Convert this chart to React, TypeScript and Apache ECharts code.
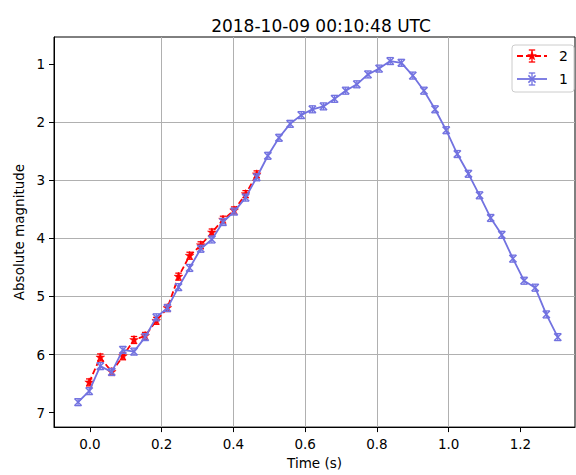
import React, { useEffect, useRef } from "react";
import * as echarts from "echarts";

// Time (s) of each observation
const times1 = [
  -0.033, -0.002, 0.029, 0.061, 0.092, 0.123, 0.154, 0.185, 0.216, 0.247,
  0.278, 0.309, 0.34, 0.371, 0.402, 0.434, 0.465, 0.496, 0.527, 0.558,
  0.589, 0.62, 0.651, 0.682, 0.713, 0.744, 0.775, 0.806, 0.837, 0.868,
  0.9, 0.931, 0.962, 0.993, 1.024, 1.055, 1.086, 1.117, 1.148, 1.179,
  1.21, 1.241, 1.272, 1.304,
];
// Station 1 absolute magnitudes
const mag1 = [
  6.82, 6.63, 6.2, 6.3, 5.92, 5.95, 5.7, 5.36, 5.2, 4.84,
  4.51, 4.18, 4.02, 3.72, 3.54, 3.3, 2.95, 2.58, 2.27, 2.03,
  1.88, 1.78, 1.73, 1.6, 1.46, 1.35, 1.18, 1.08, 0.95, 0.98,
  1.2, 1.46, 1.78, 2.14, 2.55, 2.89, 3.26, 3.65, 3.94, 4.35,
  4.73, 4.85, 5.31, 5.7,
];
const err1 = [
  0.06, 0.06, 0.06, 0.06, 0.06, 0.06, 0.06, 0.06, 0.06, 0.06,
  0.06, 0.06, 0.06, 0.06, 0.06, 0.06, 0.06, 0.06, 0.06, 0.06,
  0.06, 0.06, 0.06, 0.06, 0.06, 0.06, 0.06, 0.06, 0.06, 0.06,
  0.06, 0.06, 0.06, 0.06, 0.06, 0.06, 0.06, 0.06, 0.06, 0.06,
  0.06, 0.06, 0.06, 0.06,
];
// Station 2
const times2 = [
  -0.002, 0.029, 0.061, 0.092, 0.123, 0.154, 0.185, 0.216, 0.247, 0.278,
  0.309, 0.34, 0.371, 0.402, 0.434, 0.465,
];
const mag2 = [
  6.48, 6.05, 6.3, 6.03, 5.75, 5.68, 5.42, 5.2, 4.66, 4.3,
  4.12, 3.9, 3.68, 3.52, 3.24, 2.9,
];
const err2 = [
  0.06, 0.06, 0.06, 0.06, 0.06, 0.06, 0.06, 0.06, 0.06, 0.06,
  0.06, 0.06, 0.06, 0.06, 0.06, 0.06,
];

const xTicks = [0, 0.2, 0.4, 0.6, 0.8, 1.0, 1.2];
const yTicks = [1, 2, 3, 4, 5, 6, 7];

const TITLE = "2018-10-09 00:10:48 UTC";
const X_NAME = "Time (s)";
const Y_NAME = "Absolute magnitude";
const LABEL_1 = "1";
const LABEL_2 = "2";

const BLUE = "#7272e0";
const RED = "#ff0000";
const FONT = "DejaVu Sans";

function markerShapes(cx: number, cy: number, color: string, kind: string) {
  const out: any[] = [];
  if (kind === "x") {
    const r = 3.6;
    out.push({
      type: "line",
      shape: { x1: cx - r, y1: cy - r, x2: cx + r, y2: cy + r },
      style: { stroke: color, lineWidth: 1.5 },
    });
    out.push({
      type: "line",
      shape: { x1: cx - r, y1: cy + r, x2: cx + r, y2: cy - r },
      style: { stroke: color, lineWidth: 1.5 },
    });
  } else {
    const pts: number[][] = [];
    const R = 4.6;
    const r = 1.9;
    for (let k = 0; k < 10; k++) {
      const a = -Math.PI / 2 + (k * Math.PI) / 5;
      const rr = k % 2 === 0 ? R : r;
      pts.push([cx + rr * Math.cos(a), cy + rr * Math.sin(a)]);
    }
    out.push({
      type: "polygon",
      shape: { points: pts },
      style: { fill: color, stroke: color, lineWidth: 0.5 },
    });
  }
  return out;
}

function errGlyph(cx: number, yTop: number, yBot: number, cy: number, color: string, kind: string) {
  const cap = 3.2;
  const children: any[] = [
    { type: "line", shape: { x1: cx, y1: yTop, x2: cx, y2: yBot }, style: { stroke: color, lineWidth: 1.3 } },
    { type: "line", shape: { x1: cx - cap, y1: yTop, x2: cx + cap, y2: yTop }, style: { stroke: color, lineWidth: 1.3 } },
    { type: "line", shape: { x1: cx - cap, y1: yBot, x2: cx + cap, y2: yBot }, style: { stroke: color, lineWidth: 1.3 } },
  ];
  return children.concat(markerShapes(cx, cy, color, kind));
}

function makeRender(color: string, kind: string) {
  return (_params: any, api: any) => {
    const x = api.value(0);
    const y = api.value(1);
    const e = api.value(2);
    const c = api.coord([x, y]);
    const t = api.coord([x, y - e]);
    const b = api.coord([x, y + e]);
    return {
      type: "group",
      children: errGlyph(c[0], t[1], b[1], c[1], color, kind),
    };
  };
}

export default function App() {
  const ref = useRef<HTMLDivElement>(null);

  useEffect(() => {
    if (!ref.current) return;
    const chart = echarts.init(ref.current, undefined, { renderer: "svg" });

    const d1 = times1.map((t, i) => [t, mag1[i], err1[i]]);
    const d2 = times2.map((t, i) => [t, mag2[i], err2[i]]);

    const legendX = 512;
    const legendY = 45;

    const legendGraphics: any[] = [
      {
        type: "rect",
        shape: { x: legendX, y: legendY, width: 62, height: 47, r: 3 },
        style: { fill: "rgba(255,255,255,0.8)", stroke: "#cccccc", lineWidth: 1 },
        z: 100,
      },
      {
        type: "line",
        shape: { x1: 517, y1: 56, x2: 547, y2: 56 },
        style: { stroke: RED, lineWidth: 1.8, lineDash: [6, 3] },
        z: 101,
      },
      {
        type: "group",
        z: 101,
        children: errGlyph(532, 50, 62, 56, RED, "star").map((c) => ({ ...c, z: 101 })),
      },
      {
        type: "text",
        x: 559,
        y: 56,
        style: { text: LABEL_2, fontFamily: FONT, fontSize: 14, fill: "#000", verticalAlign: "middle" },
        z: 101,
      },
      {
        type: "line",
        shape: { x1: 517, y1: 79, x2: 547, y2: 79 },
        style: { stroke: BLUE, lineWidth: 1.8 },
        z: 101,
      },
      {
        type: "group",
        z: 101,
        children: errGlyph(532, 73, 85, 79, BLUE, "x").map((c) => ({ ...c, z: 101 })),
      },
      {
        type: "text",
        x: 559,
        y: 79,
        style: { text: LABEL_1, fontFamily: FONT, fontSize: 14, fill: "#000", verticalAlign: "middle" },
        z: 101,
      },
    ];

    chart.setOption({
      animation: false,
      backgroundColor: "#ffffff",
      title: {
        text: TITLE,
        left: 316,
        top: 12,
        textAlign: "center",
        textStyle: { fontFamily: FONT, fontSize: 17, fontWeight: "normal", color: "#000" },
      },
      grid: {
        left: 54,
        right: 1,
        top: 37,
        bottom: 42,
        show: true,
        borderColor: "#000",
        borderWidth: 1,
        backgroundColor: "transparent",
      },
      xAxis: {
        type: "value",
        min: -0.1,
        max: 1.352,
        splitNumber: 7,
        name: X_NAME,
        nameLocation: "middle",
        nameGap: 26,
        nameTextStyle: { fontFamily: FONT, fontSize: 13.5, color: "#000" },
        axisLine: { show: true, onZero: false, lineStyle: { color: "#000", width: 1 } },
        axisTick: { show: true, customValues: xTicks, length: 5, lineStyle: { color: "#000", width: 1 } },
        axisLabel: {
          customValues: xTicks,
          margin: 10,
          fontFamily: FONT,
          fontSize: 13.5,
          color: "#000",
          formatter: (v: number) => v.toFixed(1),
        },
        splitLine: {
          show: true,
          showMinLine: false,
          showMaxLine: false,
          lineStyle: { color: "#b0b0b0", width: 1 },
        },
      },
      yAxis: {
        type: "value",
        inverse: true,
        min: 0.536,
        max: 7.249,
        splitNumber: 6,
        name: Y_NAME,
        nameLocation: "middle",
        nameGap: 28,
        nameRotate: 90,
        nameTextStyle: { fontFamily: FONT, fontSize: 13.5, color: "#000" },
        axisLine: { show: true, onZero: false, lineStyle: { color: "#000", width: 1 } },
        axisTick: { show: true, customValues: yTicks, length: 5, lineStyle: { color: "#000", width: 1 } },
        axisLabel: {
          customValues: yTicks,
          margin: 9,
          fontFamily: FONT,
          fontSize: 13.5,
          color: "#000",
          formatter: (v: number) => String(Math.round(v)),
        },
        splitLine: {
          show: true,
          showMinLine: false,
          showMaxLine: false,
          lineStyle: { color: "#b0b0b0", width: 1 },
        },
      },
      series: [
        {
          name: LABEL_2,
          type: "line",
          data: d2.map((d) => [d[0], d[1]]),
          showSymbol: false,
          lineStyle: { color: RED, width: 1.8, type: [6, 3] },
          itemStyle: { color: RED },
          z: 2,
        },
        {
          name: LABEL_2 + "-err",
          type: "custom",
          data: d2,
          encode: { x: 0, y: 1 },
          renderItem: makeRender(RED, "star"),
          z: 3,
        },
        {
          name: LABEL_1,
          type: "line",
          data: d1.map((d) => [d[0], d[1]]),
          showSymbol: false,
          lineStyle: { color: BLUE, width: 1.8 },
          itemStyle: { color: BLUE },
          z: 4,
        },
        {
          name: LABEL_1 + "-err",
          type: "custom",
          data: d1,
          encode: { x: 0, y: 1 },
          renderItem: makeRender(BLUE, "x"),
          z: 5,
        },
      ],
      graphic: legendGraphics,
    });

    return () => {
      chart.dispose();
    };
  }, []);

  return <div ref={ref} style={{ width: 576, height: 475, position: "absolute", left: 0, top: 0 }} />;
}
